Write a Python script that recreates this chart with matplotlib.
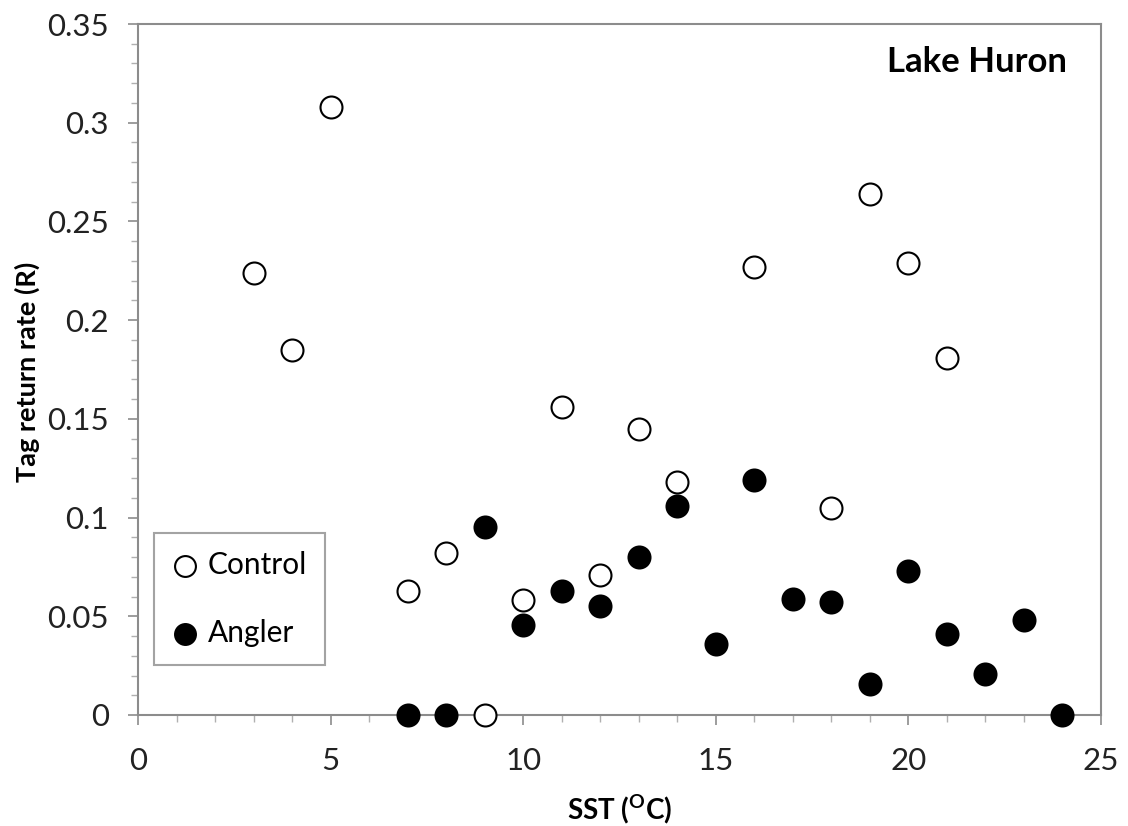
import matplotlib
matplotlib.use("Agg")
import matplotlib.pyplot as plt
from matplotlib.ticker import MultipleLocator

plt.rcParams['font.family'] = ['Lato', 'DejaVu Sans']

control_x = [3, 4, 5, 7, 8, 9, 10, 11, 12, 13, 14, 16, 18, 19, 20, 21]
control_y = [0.224, 0.185, 0.308, 0.063, 0.082, 0.0, 0.058, 0.156, 0.071, 0.145, 0.118, 0.227, 0.105, 0.264, 0.229, 0.181]
angler_x = [7, 8, 9, 10, 11, 12, 13, 14, 15, 16, 17, 18, 19, 20, 21, 22, 23, 24]
angler_y = [0.0, 0.0, 0.095, 0.0455, 0.063, 0.055, 0.080, 0.106, 0.036, 0.119, 0.059, 0.057, 0.0157, 0.073, 0.041, 0.0207, 0.048, 0.0]

fig = plt.figure(figsize=(11.28, 8.26), dpi=100)
ax = fig.add_axes([138/1128, 1 - 715/826, 963/1128, 691/826])

ax.scatter(control_x, control_y, s=250, facecolors='white', edgecolors='black', linewidths=1.5, label='Control', zorder=3, clip_on=False)
ax.scatter(angler_x, angler_y, s=250, facecolors='black', edgecolors='black', linewidths=1.5, label='Angler', zorder=3, clip_on=False)

ax.set_xlim(0, 25)
ax.set_ylim(0, 0.35)
ax.xaxis.set_minor_locator(MultipleLocator(1))
ax.yaxis.set_minor_locator(MultipleLocator(0.01))
ax.set_yticks([0, 0.05, 0.1, 0.15, 0.2, 0.25, 0.3, 0.35])
ax.set_yticklabels(['0', '0.05', '0.1', '0.15', '0.2', '0.25', '0.3', '0.35'])
ax.set_xticks([0, 5, 10, 15, 20, 25])
ax.set_xticklabels(['0', '5', '10', '15', '20', '25'])

for sp in ax.spines.values():
    sp.set_color('#8c8c8c')
    sp.set_linewidth(1.5)
ax.tick_params(axis='both', which='major', direction='out', length=7, color='#8c8c8c', width=1.2, labelsize=22.5, labelcolor='#222222')
ax.tick_params(axis='x', which='major', pad=16)
ax.tick_params(axis='y', which='major', pad=14)
ax.tick_params(axis='both', which='minor', direction='out', length=5, color='#b0b0b0', width=1.0)

ax.set_xlabel('SST ($^{\\mathregular{O}}$C)', fontsize=20, fontweight='bold')
ax.xaxis.set_label_coords(0.5, -(809 - 715) / 691)
ax.xaxis.label.set_va('center')
ax.set_ylabel('Tag return rate (R)', fontsize=19.5, fontweight='bold')
ax.yaxis.set_label_coords(-(138 - 27) / 963, 0.496)
ax.yaxis.label.set_va('center')

ax.text(0.965, 0.945, 'Lake Huron', transform=ax.transAxes, ha='right', va='center', fontsize=25, fontweight='bold')

leg = ax.legend(loc='lower left', bbox_to_anchor=(16/963, 50/691), fontsize=21.5, frameon=True, fancybox=False,
                edgecolor='#8c8c8c', handletextpad=0.3, labelspacing=1.35, borderpad=0.6, markerscale=0.95,
                handlelength=0.9, borderaxespad=0)
leg.get_frame().set_linewidth(1.5)

fig.savefig('out.png', dpi=100)
